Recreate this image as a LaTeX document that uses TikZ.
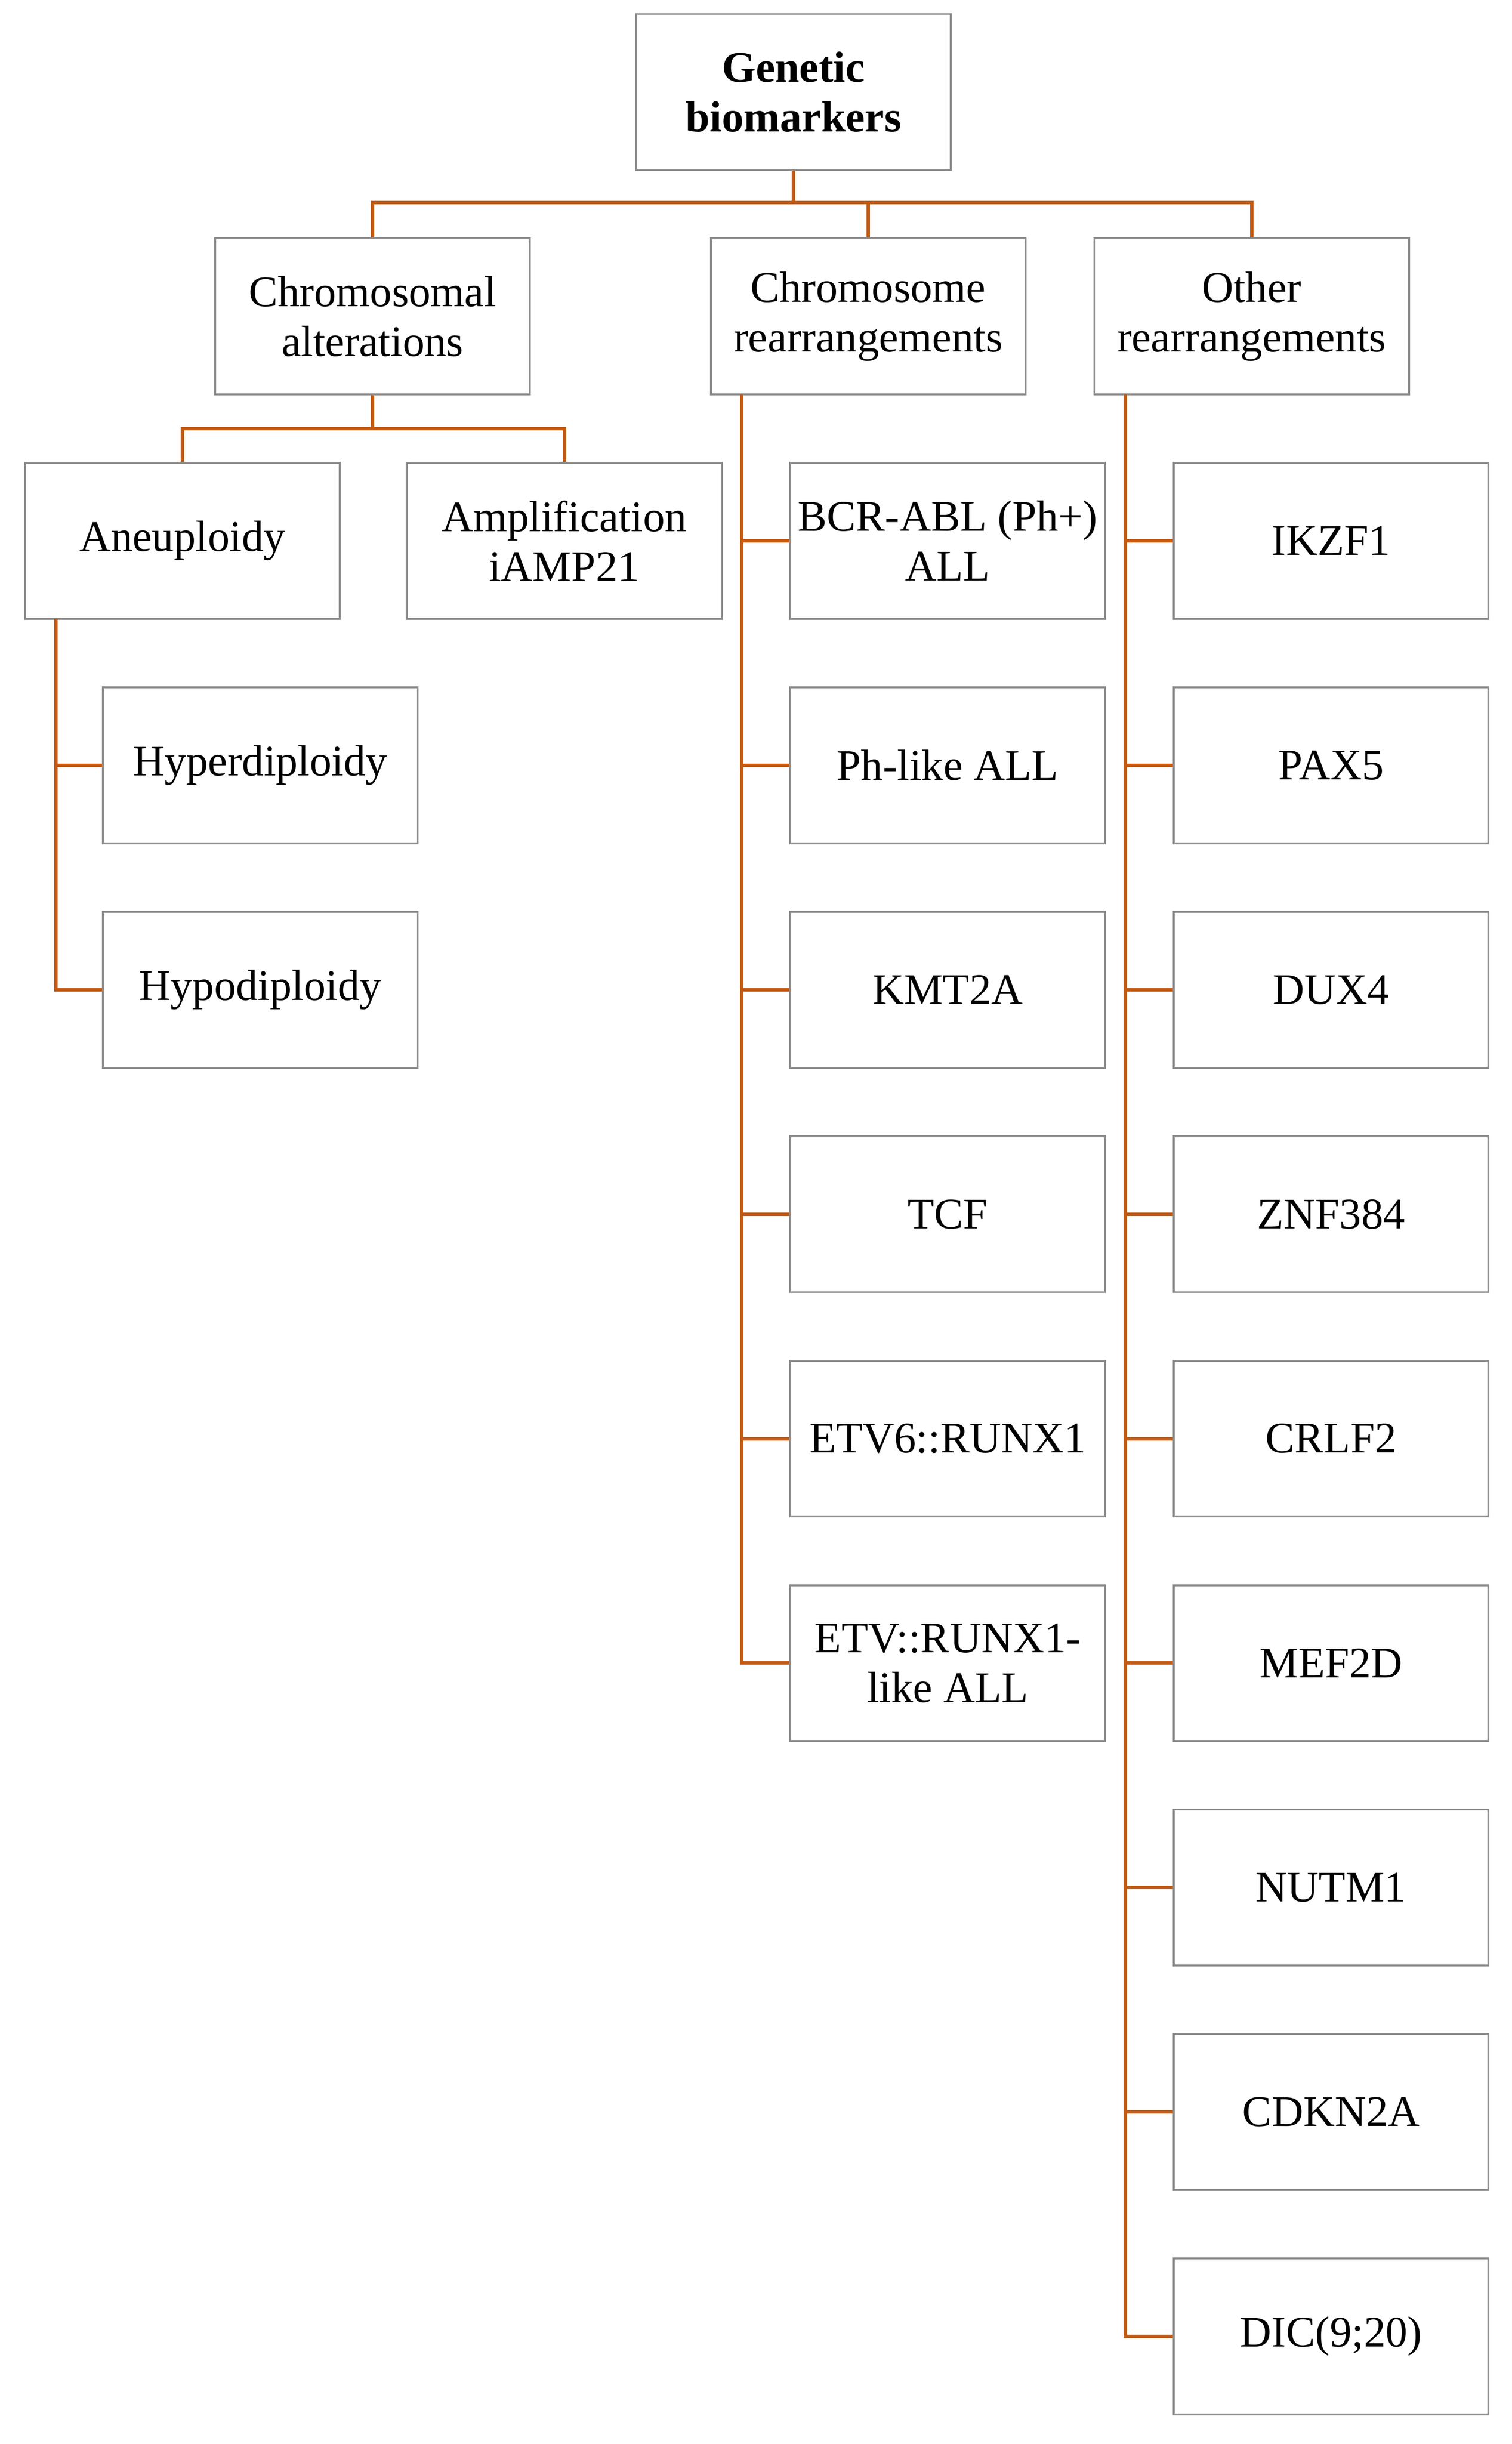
\documentclass[tikz,border=0pt]{standalone}
\usepackage{fontspec}
\setmainfont{Liberation Serif}
\begin{document}
\begin{tikzpicture}[x=1pt,y=-1pt,
  box/.style={draw=black!45,line width=1.2pt,minimum width=202pt,minimum height=100pt,align=center,font=\fontsize{28}{32}\selectfont,inner sep=0pt},
  con/.style={draw={rgb,255:red,197;green,90;blue,17},line width=2.2pt}]
\useasboundingbox (0,0) rectangle (970,1568);
\node[box,font=\fontsize{28}{32}\selectfont\bfseries] (root) at (509,59) {Genetic\\biomarkers};
\node[box] (ca) at (239,203) {Chromosomal\\alterations};
\node[box] (cr) at (557,203) {Chromosome\\rearrangements};
\node[box] (or) at (803,203) {Other\\rearrangements};
\node[box] (an) at (117,347) {Aneuploidy};
\node[box] (am) at (362,347) {Amplification\\iAMP21};
\node[box] (hy1) at (167,491) {Hyperdiploidy};
\node[box] (hy2) at (167,635) {Hypodiploidy};
\foreach \t [count=\i from 0] in {{BCR-ABL (Ph+)\\ALL},{Ph-like ALL},KMT2A,TCF,{ETV6::RUNX1},{ETV::RUNX1-\\like ALL}}
  \node[box] (m\i) at (608,347+144*\i) {\t};
\foreach \t [count=\i from 0] in {IKZF1,PAX5,DUX4,ZNF384,CRLF2,MEF2D,NUTM1,CDKN2A,{DIC(9;20)}}
  \node[box] (r\i) at (854,347+144*\i) {\t};
\coordinate (j0) at (509,130);
\draw[con] (root.south) -- (j0);
\draw[con] (ca.north) |- (j0) -| (or.north);
\draw[con] (cr.north) -- (cr.north |- j0);
\coordinate (j1) at (239,275);
\draw[con] (ca.south) -- (j1);
\draw[con] (an.north) |- (j1) -| (am.north);
\coordinate (sa) at (36,397);
\draw[con] (sa) |- (hy2.west);
\draw[con] (sa |- hy1.west) -- (hy1.west);
\coordinate (sm) at (476,253);
\draw[con] (sm) |- (m5.west);
\foreach \i in {0,...,4} \draw[con] (sm |- m\i.west) -- (m\i.west);
\coordinate (sr) at (722,253);
\draw[con] (sr) |- (r8.west);
\foreach \i in {0,...,7} \draw[con] (sr |- r\i.west) -- (r\i.west);
\end{tikzpicture}
\end{document}
